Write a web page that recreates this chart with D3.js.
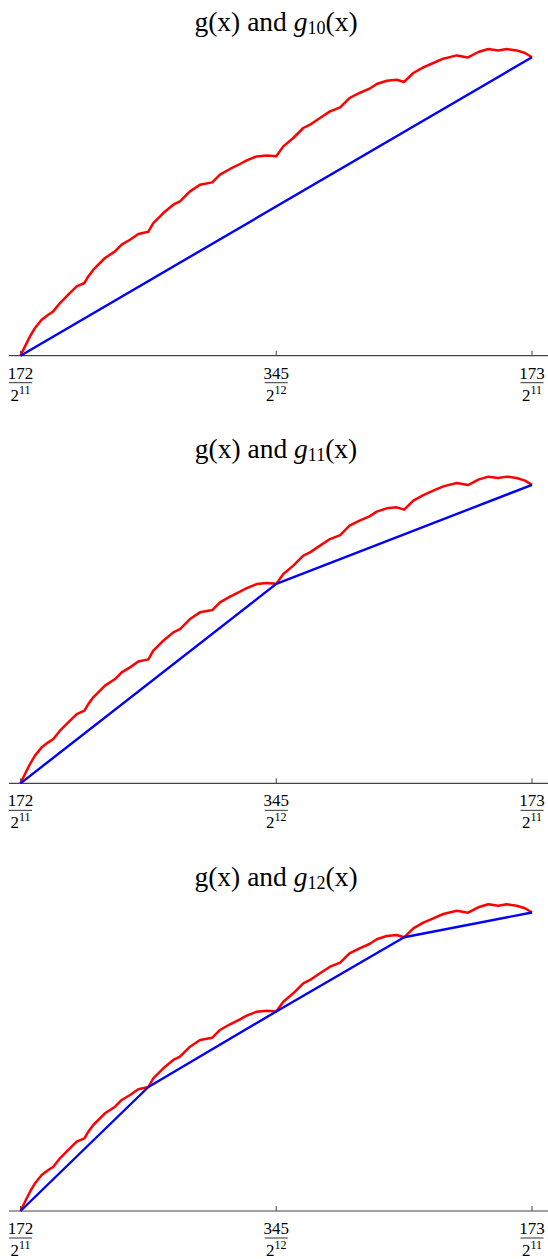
<!DOCTYPE html>
<html>
<head>
<meta charset="utf-8">
<script src="https://cdn.jsdelivr.net/npm/d3@7"></script>
<style>
  html, body { margin: 0; padding: 0; background: #fff; }
  svg { display: block; }
  text { font-family: "Liberation Serif", "DejaVu Serif", serif; fill: #000; }
</style>
</head>
<body>
<svg id="chart" width="548" height="1259"></svg>
<script>
// offset inside [172/2^11, 173/2^11], in units of 2^-11
const gT = [0, 0.0088, 0.0186, 0.0283, 0.0414, 0.0543, 0.0641, 0.0772, 0.0934, 0.1099, 0.125, 0.1326, 0.1423,
    0.1652, 0.1848, 0.1978, 0.2141, 0.2303, 0.25, 0.2596, 0.2792, 0.2987, 0.3118, 0.3314, 0.3509, 0.375, 0.39,
    0.4096, 0.4291, 0.4422, 0.4618, 0.4813, 0.5, 0.5138, 0.5333, 0.5529, 0.566, 0.5855, 0.6051, 0.625,
    0.6432, 0.6628, 0.6823, 0.6964, 0.716, 0.7355, 0.75, 0.768, 0.7875, 0.807, 0.8266, 0.8528, 0.875,
    0.895, 0.9145, 0.9341, 0.9505, 0.9701, 0.9863, 1];
// g(x), scaled so that g at the right end = 1
const gV = [0, 0.0312, 0.0647, 0.0928, 0.1206, 0.1374, 0.1484, 0.1765, 0.2044, 0.2322, 0.2436, 0.2657, 0.2881,
    0.3273, 0.3494, 0.3719, 0.3886, 0.408, 0.4154, 0.4445, 0.478, 0.5059, 0.5169, 0.5504, 0.5729, 0.5806, 0.6064,
    0.6255, 0.6422, 0.6543, 0.6677, 0.671, 0.6683, 0.7012, 0.7293, 0.7628, 0.7739, 0.7963, 0.8184, 0.8318,
    0.8633, 0.8801, 0.8945, 0.9102, 0.9213, 0.9246, 0.917, 0.947, 0.9658, 0.9806, 0.995, 1.006, 0.9993,
    1.0174, 1.0275, 1.0228, 1.0275, 1.0228, 1.0141, 1];

const gnSub = ["10", "11", "12"];
const gnT = [[0, 1], [0, 0.5, 1], [0, 0.25, 0.5, 0.75, 1]];
const gnV = [[0, 1], [0, 0.6683, 1], [0, 0.4154, 0.6683, 0.917, 1]];

const tickT = [0, 0.5, 1];
const tickNum = ["172", "345", "173"];
const tickExp = ["11", "12", "11"];

const svg = d3.select("#chart");
svg.append("rect").attr("width", 548).attr("height", 1259).attr("fill", "#fff");

const x = d3.scaleLinear().domain([0, 1]).range([20.5, 532]);
const gPts = gT.map((t, i) => [t, gV[i]]);

gnSub.forEach((sub, k) => {
    const axisY = 355.7 + k * 427.65;
    const y = d3.scaleLinear().domain([0, 1]).range([axisY, axisY - 298.5]);
    const line = d3.line().x(d => x(d[0])).y(d => y(d[1]));
    const G = svg.append("g");

    const title = G.append("text").attr("x", 276).attr("y", axisY - 325)
        .attr("text-anchor", "middle").attr("font-size", 27.5);
    title.append("tspan").text("g(x) and ");
    title.append("tspan").attr("font-style", "italic").text("g");
    title.append("tspan").attr("font-size", 18).attr("dy", 3).text(sub);
    title.append("tspan").attr("dy", -3).text("(x)");

    G.append("line").attr("x1", 9).attr("x2", 548).attr("y1", axisY).attr("y2", axisY)
        .attr("stroke", "#444").attr("stroke-width", 1.2);

    tickT.forEach((t, i) => {
        const tx = x(t);
        G.append("line").attr("x1", tx).attr("x2", tx).attr("y1", axisY - 5).attr("y2", axisY)
            .attr("stroke", "#444").attr("stroke-width", 1);
        G.append("text").attr("x", tx).attr("y", axisY + 23).attr("text-anchor", "middle")
            .attr("font-size", 17).text(tickNum[i]);
        G.append("line").attr("x1", tx - 11.5).attr("x2", tx + 11.5)
            .attr("y1", axisY + 27).attr("y2", axisY + 27).attr("stroke", "#333").attr("stroke-width", 1);
        const den = G.append("text").attr("x", tx).attr("y", axisY + 45).attr("text-anchor", "middle")
            .attr("font-size", 17);
        den.append("tspan").text("2");
        den.append("tspan").attr("font-size", 12).attr("dy", -7).text(tickExp[i]);
    });

    G.append("path").datum(gPts).attr("d", line).attr("fill", "none")
        .attr("stroke", "#f00").attr("stroke-width", 2.5).attr("stroke-linejoin", "round");

    const bPts = gnT[k].map((t, i) => [t, gnV[k][i]]);
    G.append("path").datum(bPts).attr("d", line).attr("fill", "none")
        .attr("stroke", "#00f").attr("stroke-width", 2.4).attr("stroke-linejoin", "round");
});
</script>
</body>
</html>
